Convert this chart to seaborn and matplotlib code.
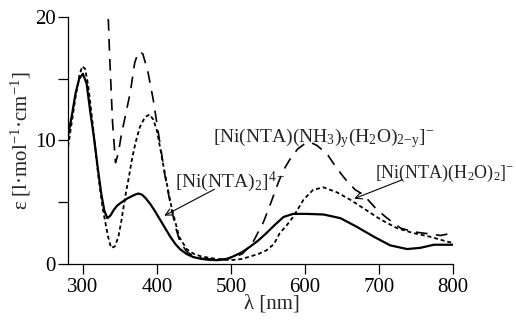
import numpy as np
import seaborn as sns
import matplotlib
matplotlib.use("Agg")
import matplotlib.pyplot as plt

# wavelength (nm) and epsilon values
wl_nta2 = [280, 285, 290, 295, 300, 305, 310, 315, 320, 325, 329, 333, 337, 342, 346, 350,
           355, 360, 365, 370, 375, 380, 385, 391, 397, 404, 411, 418, 425, 431, 440, 449,
           460, 470, 481, 492, 503, 515, 526, 537, 548, 560, 571, 584, 602, 625, 648, 670,
           693, 715, 738, 756, 774, 789, 800]
eps_nta2 = [10.4, 12.0, 13.8, 15.0, 15.4, 14.6, 12.3, 10.2, 7.8, 5.6, 4.3, 3.7, 3.9, 4.4, 4.7, 4.9,
            5.1, 5.3, 5.45, 5.6, 5.7, 5.6, 5.3, 4.85, 4.3, 3.6, 2.9, 2.2, 1.6, 1.2, 0.8, 0.55,
            0.4, 0.33, 0.3, 0.35, 0.6, 0.95, 1.4, 1.9, 2.5, 3.2, 3.8, 4.05, 4.05, 4.0, 3.7, 3.0,
            2.2, 1.5, 1.2, 1.3, 1.55, 1.55, 1.55]

wl_h2o = [280, 285, 290, 295, 299, 303, 307, 311, 316, 321, 327, 334, 338, 343, 348, 352,
          357, 362, 366, 371, 377, 384, 390, 395, 400, 404, 411, 420, 430, 440, 450, 460,
          480, 500, 515, 526, 537, 548, 558, 566, 575, 584, 598, 611, 625, 643, 661, 679,
          702, 724, 746, 769, 792, 800]
eps_h2o = [9.5, 11.5, 13.5, 15.2, 16.0, 15.8, 14.5, 12.5, 9.8, 7.0, 4.4, 2.2, 1.3, 1.4, 2.2, 3.5,
           5.4, 7.0, 8.4, 9.8, 11.1, 11.9, 12.1, 11.7, 10.8, 9.5, 7.2, 4.5, 2.2, 1.2, 0.8, 0.6,
           0.4, 0.3, 0.4, 0.6, 0.8, 1.1, 1.6, 2.5, 3.1, 3.8, 5.2, 6.0, 6.2, 5.8, 5.2, 4.5,
           3.6, 2.9, 2.5, 2.2, 1.8, 1.7]

wl_nh3 = [333, 336, 340, 344, 348, 352, 357, 364, 370, 374, 377, 381, 388, 395, 404, 411,
          418, 425, 431, 440, 450, 460, 480, 500, 515, 525, 531, 537, 544, 553, 564, 571,
          580, 590, 600, 607, 616, 624, 631, 640, 650, 658, 668, 679, 685, 697, 711, 729,
          746, 765, 783, 796, 800]
eps_nh3 = [22.0, 17.0, 11.5, 8.2, 9.0, 10.5, 11.9, 13.9, 16.3, 17.0, 17.2, 17.0, 15.5, 13.3, 9.8, 7.1,
           4.9, 3.0, 1.8, 1.0, 0.6, 0.45, 0.35, 0.45, 0.8, 1.4, 1.9, 2.6, 3.4, 4.8, 6.6, 7.6,
           8.5, 9.3, 9.75, 9.85, 9.6, 9.2, 8.8, 8.0, 7.2, 6.6, 6.0, 5.6, 5.2, 4.4, 3.7, 2.9,
           2.6, 2.45, 2.3, 2.45, 2.6]

x_ticks = [300, 400, 500, 600, 700, 800]
y_ticks = [0, 10, 20]

sns.set_theme(style="ticks")
plt.rcParams['font.family'] = ['Liberation Serif', 'DejaVu Serif']
plt.rcParams['mathtext.fontset'] = 'custom'
plt.rcParams['mathtext.rm'] = 'Liberation Serif'
plt.rcParams['mathtext.it'] = 'Liberation Serif:italic'

fig = plt.figure(figsize=(5.16, 3.21), dpi=100)
ax = fig.add_axes([0.132, 0.178, 0.746, 0.769])

sns.lineplot(x=wl_nta2, y=eps_nta2, color="black", linewidth=1.6, ax=ax)
sns.lineplot(x=wl_h2o, y=eps_h2o, color="black", linewidth=1.3, linestyle=(0, (2.2, 1.6)), ax=ax)
sns.lineplot(x=wl_nh3, y=eps_nh3, color="black", linewidth=1.2, linestyle=(0, (7, 5)), ax=ax)

ax.set_xlim(280, 800)
ax.set_ylim(0, 20)
ax.set_xticks(x_ticks)
ax.set_yticks(y_ticks)
ax.set_yticks([5, 15], minor=True)
ax.tick_params(axis="both", which="both", direction="out", length=7, width=0.9,
               labelsize=15, colors="black")
ax.tick_params(axis="y", pad=2)
sns.despine(ax=ax)
for s in ["left", "bottom"]:
    ax.spines[s].set_linewidth(0.9)
    ax.spines[s].set_color("black")

ax.set_xlabel("λ [nm]", fontsize=15, labelpad=0)
ax.xaxis.set_label_coords(0.53, -0.125)
ax.set_ylabel(r"ε [l·mol$^{-1}$·cm$^{-1}$]", fontsize=15)
ax.yaxis.set_label_coords(-0.09, 0.5)

# labels and arrows
ax.text(425, 6.2, r"[Ni(NTA)$_2$]$^{4-}$", fontsize=14, ha="left", va="baseline")
ax.annotate("", xy=(406.6, 3.8), xytext=(481, 6.15),
            arrowprops=dict(arrowstyle="->", color="black", lw=0.8))
ax.text(476, 9.85, r"[Ni(NTA)(NH$_3$)$_\mathrm{y}$(H$_2$O)$_{2\mathrm{-y}}$]$^{-}$", fontsize=14,
        ha="left", va="baseline")
ax.text(694, 7.0, r"[Ni(NTA)(H$_2$O)$_2$]$^{-}$", fontsize=13, ha="left", va="baseline")
ax.annotate("", xy=(663, 5.2), xytext=(735, 6.9),
            arrowprops=dict(arrowstyle="->", color="black", lw=0.8))

fig.savefig("out.png", dpi=100, facecolor="white")
